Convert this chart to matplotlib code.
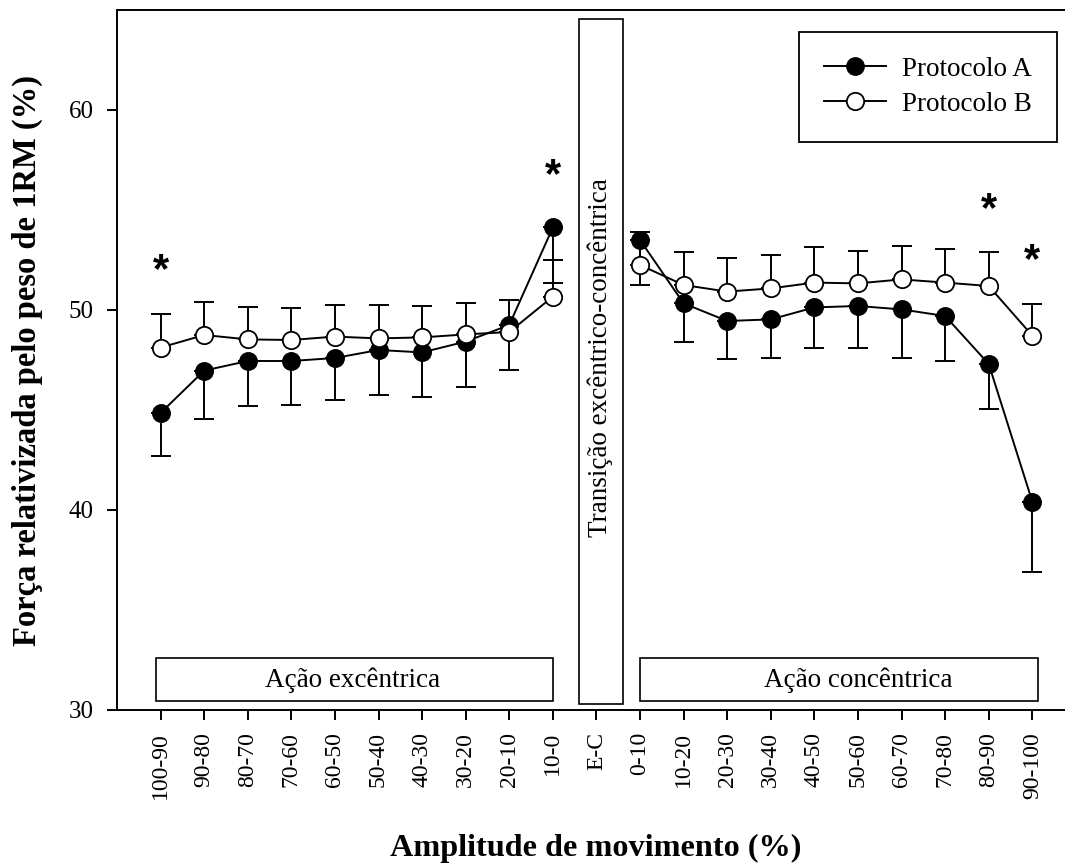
import matplotlib
matplotlib.use('Agg')
import matplotlib.pyplot as plt
import numpy as np
from matplotlib.patches import Rectangle
from matplotlib.lines import Line2D

plt.rcParams['font.family'] = ['Liberation Serif', 'DejaVu Serif']

# Range-of-motion bins (eccentric, transition, concentric)
categories = ['100-90', '90-80', '80-70', '70-60', '60-50', '50-40', '40-30',
              '30-20', '20-10', '10-0', 'E-C', '0-10', '10-20', '20-30',
              '30-40', '40-50', '50-60', '60-70', '70-80', '80-90', '90-100']

# Mean force (% 1RM); no value at the E-C transition
prot_a = [44.85, 46.97, 47.45, 47.45, 47.6, 48.0, 47.88, 48.42, 49.25, 54.13,
          np.nan, 53.5, 50.33, 49.45, 49.53, 50.13, 50.2, 50.03, 49.7, 47.3, 40.42]
prot_b = [48.12, 48.75, 48.53, 48.5, 48.67, 48.58, 48.63, 48.78, 48.9, 50.67,
          np.nan, 52.25, 51.25, 50.92, 51.08, 51.37, 51.33, 51.53, 51.37, 51.2, 48.72]

# Standard deviations (A drawn downward, B drawn upward)
sd_a = [2.15, 2.42, 2.25, 2.2, 2.1, 2.25, 2.21, 2.29, 2.25, 2.8,
        np.nan, 2.25, 1.93, 1.92, 1.95, 2.01, 2.12, 2.45, 2.25, 2.27, 3.54]
sd_b = [1.68, 1.65, 1.62, 1.6, 1.58, 1.65, 1.59, 1.55, 1.6, 1.83,
        np.nan, 1.65, 1.65, 1.66, 1.67, 1.76, 1.62, 1.69, 1.66, 1.72, 1.56]

# Significance markers: (bin index, height)
stars = [(0, 52.35), (9, 57.1), (19, 55.4), (20, 52.85)]

x = np.arange(len(categories))
prot_a = np.array(prot_a)
prot_b = np.array(prot_b)
sd_a = np.array(sd_a)
sd_b = np.array(sd_b)

fig = plt.figure(figsize=(10.65, 8.64), dpi=100)
ax = fig.add_axes([117 / 1065, 1 - 710 / 864, 948 / 1065, 700 / 864])

lw = 1.4
ms = 12.5

# Protocol A
ax.errorbar(x, prot_a, yerr=[sd_a, np.zeros_like(sd_a)], fmt='none',
            ecolor='black', elinewidth=lw, capsize=7, capthick=lw, zorder=2)
ax.plot(x, prot_a, color='black', lw=lw, marker='o', ms=ms,
        mfc='black', mec='black', mew=1.1, zorder=3)

# Protocol B
ax.errorbar(x, prot_b, yerr=[np.zeros_like(sd_b), sd_b], fmt='none',
            ecolor='black', elinewidth=lw, capsize=7, capthick=lw, zorder=4)
ax.plot(x, prot_b, color='black', lw=lw, marker='o', ms=ms,
        mfc='white', mec='black', mew=1.3, zorder=5)

# asterisk glyph sits high in the em box, so shift the baseline down
star_fs = 30
for xi, yi in stars:
    ax.annotate('*', (xi, yi), xytext=(0, -0.46 * star_fs), textcoords='offset points',
                ha='center', va='baseline', fontsize=star_fs,
                family='Liberation Sans', fontweight='bold', zorder=6)

# Phase boxes
ax.add_patch(Rectangle((-0.115, 30.45), 9.125, 2.15, fill=False, lw=1.2, zorder=1))
ax.text(4.4, 31.5, 'Ação excêntrica', ha='center', va='center', fontsize=19.5)
ax.add_patch(Rectangle((9.59, 30.3), 1.02, 34.25, fill=False, lw=1.2, zorder=1))
ax.text(10.08, 47.6, 'Transição excêntrico-concêntrica', rotation=90,
        ha='center', va='center', fontsize=19.5)
ax.add_patch(Rectangle((11.0, 30.45), 9.14, 2.15, fill=False, lw=1.2, zorder=1))
ax.text(16.0, 31.5, 'Ação concêntrica', ha='center', va='center', fontsize=19.5)

ax.set_xlim(-1, 20.75)
ax.set_ylim(30, 65)
ax.set_yticks([30, 40, 50, 60])
ax.set_xticks(x)
ax.set_xticklabels(categories, rotation=90, fontsize=17)
ax.tick_params(axis='y', labelsize=18, length=7, width=1.4, pad=10)
ax.tick_params(axis='x', length=7, width=1.4, pad=9)
ax.spines['right'].set_visible(False)
for s in ['left', 'top', 'bottom']:
    ax.spines[s].set_linewidth(1.4)

handles = [
    Line2D([], [], color='black', lw=lw, marker='o', ms=ms, mfc='black', mec='black'),
    Line2D([], [], color='black', lw=lw, marker='o', ms=ms, mfc='white', mec='black', mew=1.3),
]
leg = ax.legend(handles, ['Protocolo A', 'Protocolo B'], loc='upper right',
                bbox_to_anchor=(0.9916, 0.9686), borderaxespad=0, fontsize=19.5,
                handlelength=2.3, handletextpad=0.6, labelspacing=0.37,
                borderpad=0.92, fancybox=False, framealpha=1, edgecolor='black')
leg.get_frame().set_linewidth(1.3)

fig.text(27 / 1065, 1 - 360 / 864, 'Força relativizada pelo peso de 1RM (%)',
         rotation=90, ha='center', va='center', fontsize=23.5, fontweight='bold')
fig.text(596 / 1065, 1 - 856 / 864, 'Amplitude de movimento (%)',
         ha='center', va='baseline', fontsize=23.2, fontweight='bold')

fig.savefig('out.png', dpi=100)
